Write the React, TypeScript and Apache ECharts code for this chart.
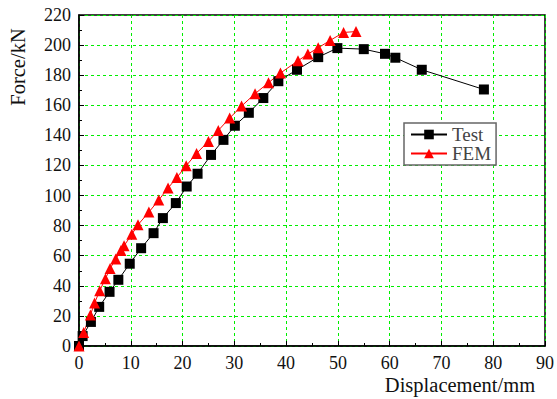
import React, { useEffect, useRef } from "react";
import * as echarts from "echarts";

const testX = [0, 0.7, 2.3, 3.9, 5.9, 7.6, 9.8, 12.0, 14.4, 16.2, 18.7, 20.8, 22.9, 25.5, 27.9, 30.1, 32.8, 35.6, 38.5, 42.1, 46.2, 49.9, 55.0, 59.1, 61.1, 66.2, 78.2];
const testY = [0, 6.6, 16, 26, 36, 44, 54.7, 65, 75, 85, 95, 106, 114.5, 127, 137, 146.4, 155, 164.8, 176, 183.6, 192, 198, 197.3, 194.2, 191.6, 183.6, 170.5];
const femX = [0, 0.9, 2.2, 3.0, 4.0, 5.1, 6.0, 7.1, 8.1, 8.7, 10.2, 11.4, 13.5, 15.4, 17.2, 18.9, 20.7, 22.7, 25.0, 26.9, 29.1, 31.4, 34.0, 36.6, 38.9, 42.3, 44.2, 46.2, 48.5, 51.1, 53.5];
const femY = [0, 9, 20.6, 28.5, 36.8, 44.7, 51.5, 57.8, 63.5, 66.6, 74.2, 80.6, 89, 97, 105, 112, 119.8, 128, 136, 143.3, 151.5, 159.5, 167.7, 175, 181.4, 189.6, 194, 198.2, 203.1, 208.4, 209];
const seriesNames = ["Test", "FEM"];
const xTitle = "Displacement/mm";
const yTitle = "Force/kN";

const FONT = "'Liberation Serif', 'Times New Roman', serif";

export default function App() {
  const ref = useRef<HTMLDivElement>(null);
  useEffect(() => {
    if (!ref.current) return;
    const chart = echarts.init(ref.current, undefined, { renderer: "svg" });
    const axisCommon = {
      axisLine: { show: true, lineStyle: { color: "#000", width: 1.5 } },
      axisTick: { show: true, inside: true, length: 5, lineStyle: { color: "#000", width: 1 } },
      minorTick: { show: true, splitNumber: 2, length: 3, lineStyle: { color: "#000", width: 1 } },
      axisLabel: { fontFamily: FONT, fontSize: 18, color: "#111", margin: 8, lineHeight: 18 },
      splitLine: { show: true, lineStyle: { color: "#00ee00", type: [3, 3], width: 1 } },
    };
    chart.setOption({
      animation: false,
      backgroundColor: "#fff",
      grid: { left: 79, right: 11, top: 15, bottom: 53, show: true, borderColor: "#000", borderWidth: 1.5, backgroundColor: "transparent" },
      xAxis: { type: "value", min: 0, max: 90, interval: 10, ...axisCommon },
      yAxis: { type: "value", min: 0, max: 220, interval: 20, ...axisCommon },
      legend: {
        orient: "vertical",
        left: 404,
        top: 123,
        padding: [2, 5, 2, 6],
        itemGap: 0,
        itemWidth: 36,
        itemHeight: 12,
        borderColor: "#666",
        borderWidth: 1.5,
        backgroundColor: "#fff",
        textStyle: { fontFamily: FONT, fontSize: 19, color: "#444", lineHeight: 19 },
        data: seriesNames,
      },
      graphic: [
        {
          type: "text",
          x: 18,
          y: 67,
          rotation: Math.PI / 2,
          style: { text: yTitle, font: `20.5px ${FONT}`, fill: "#111", align: "center", verticalAlign: "middle" },
        },
        {
          type: "text",
          x: 460,
          y: 374,
          style: { text: xTitle, font: `20.5px ${FONT}`, fill: "#111", align: "center", verticalAlign: "top" },
        },
      ],
      series: [
        {
          name: seriesNames[0],
          type: "line",
          data: testX.map((x, i) => [x, testY[i]]),
          symbol: "rect",
          symbolSize: 10,
          itemStyle: { color: "#000" },
          lineStyle: { color: "#000", width: 1 },
        },
        {
          name: seriesNames[1],
          type: "line",
          data: femX.map((x, i) => [x, femY[i]]),
          symbol: "triangle",
          symbolSize: 11,
          itemStyle: { color: "#ff0000" },
          lineStyle: { color: "#ff0000", width: 1 },
        },
      ],
    });
    return () => chart.dispose();
  }, []);
  return <div ref={ref} style={{ position: "fixed", left: 0, top: 0, width: 557, height: 399 }} />;
}
